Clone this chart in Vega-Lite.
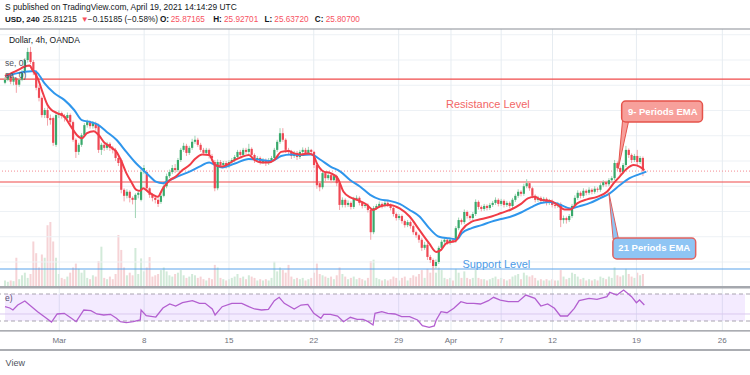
{
"$schema":"https://vega.github.io/schema/vega-lite/v6.json",
"width":750,"height":375,"padding":0,
"autosize":{"type":"none"},
"background":"white",
"config":{"view":{"stroke":null},"font":"Liberation Sans"},
"datasets":{
"candles":[
{"i":0,"o":27.55,"h":27.66,"l":27.52,"c":27.61,"v":10},
{"i":1,"o":27.61,"h":27.72,"l":27.58,"c":27.68,"v":8},
{"i":2,"o":27.68,"h":27.7,"l":27.52,"c":27.57,"v":10},
{"i":3,"o":27.57,"h":27.67,"l":27.5,"c":27.64,"v":9},
{"i":4,"o":27.64,"h":27.66,"l":27.35,"c":27.51,"v":45},
{"i":5,"o":27.51,"h":27.64,"l":27.47,"c":27.61,"v":12},
{"i":6,"o":27.61,"h":27.8,"l":27.58,"c":27.76,"v":18},
{"i":7,"o":27.76,"h":28.04,"l":27.72,"c":28.0,"v":22},
{"i":8,"o":28.0,"h":28.24,"l":27.95,"c":28.16,"v":14},
{"i":9,"o":28.16,"h":28.26,"l":27.92,"c":27.96,"v":20},
{"i":10,"o":27.96,"h":28.0,"l":27.7,"c":27.76,"v":70},
{"i":11,"o":27.76,"h":27.8,"l":27.4,"c":27.45,"v":52},
{"i":12,"o":27.45,"h":27.5,"l":27.18,"c":27.25,"v":30},
{"i":13,"o":27.25,"h":27.28,"l":26.86,"c":26.91,"v":50},
{"i":14,"o":26.91,"h":27.05,"l":26.85,"c":27.01,"v":45},
{"i":15,"o":27.01,"h":27.06,"l":26.7,"c":26.85,"v":95},
{"i":16,"o":26.85,"h":26.92,"l":26.72,"c":26.81,"v":100},
{"i":17,"o":26.85,"h":26.88,"l":26.3,"c":26.36,"v":70},
{"i":18,"o":26.32,"h":26.95,"l":26.28,"c":26.91,"v":45},
{"i":19,"o":26.91,"h":27.0,"l":26.85,"c":26.95,"v":20},
{"i":20,"o":26.95,"h":26.98,"l":26.84,"c":26.89,"v":14},
{"i":21,"o":26.89,"h":26.93,"l":26.78,"c":26.85,"v":12},
{"i":22,"o":26.85,"h":26.96,"l":26.82,"c":26.91,"v":16},
{"i":23,"o":26.91,"h":26.94,"l":26.72,"c":26.77,"v":22},
{"i":24,"o":26.77,"h":26.8,"l":26.38,"c":26.42,"v":30},
{"i":25,"o":26.42,"h":26.45,"l":26.06,"c":26.18,"v":36},
{"i":26,"o":26.18,"h":26.36,"l":26.12,"c":26.32,"v":28},
{"i":27,"o":26.32,"h":26.55,"l":26.28,"c":26.51,"v":22},
{"i":28,"o":26.51,"h":26.75,"l":26.47,"c":26.71,"v":26},
{"i":29,"o":26.71,"h":26.82,"l":26.66,"c":26.77,"v":14},
{"i":30,"o":26.77,"h":26.8,"l":26.64,"c":26.69,"v":12},
{"i":31,"o":26.69,"h":26.79,"l":26.64,"c":26.75,"v":18},
{"i":32,"o":26.75,"h":26.78,"l":26.6,"c":26.65,"v":16},
{"i":33,"o":26.71,"h":26.74,"l":26.16,"c":26.22,"v":40},
{"i":34,"o":26.22,"h":26.36,"l":26.12,"c":26.32,"v":62},
{"i":35,"o":26.32,"h":26.36,"l":26.2,"c":26.26,"v":14},
{"i":36,"o":26.26,"h":26.38,"l":26.22,"c":26.34,"v":12},
{"i":37,"o":26.34,"h":26.37,"l":26.2,"c":26.26,"v":16},
{"i":38,"o":26.26,"h":26.3,"l":26.15,"c":26.22,"v":12},
{"i":39,"o":26.22,"h":26.26,"l":26.0,"c":26.06,"v":20},
{"i":40,"o":26.06,"h":26.1,"l":25.9,"c":25.96,"v":80},
{"i":41,"o":26.02,"h":26.05,"l":25.36,"c":25.43,"v":57},
{"i":42,"o":25.43,"h":25.46,"l":25.2,"c":25.31,"v":30},
{"i":43,"o":25.31,"h":25.44,"l":25.26,"c":25.39,"v":18},
{"i":44,"o":25.39,"h":25.42,"l":25.18,"c":25.27,"v":22},
{"i":45,"o":25.27,"h":25.3,"l":25.14,"c":25.23,"v":18},
{"i":46,"o":25.23,"h":25.36,"l":24.87,"c":25.33,"v":60},
{"i":47,"o":25.33,"h":25.42,"l":25.26,"c":25.37,"v":20},
{"i":48,"o":25.23,"h":25.84,"l":25.2,"c":25.78,"v":44},
{"i":49,"o":25.78,"h":25.92,"l":25.74,"c":25.86,"v":24},
{"i":50,"o":25.78,"h":25.82,"l":25.4,"c":25.46,"v":30},
{"i":51,"o":25.46,"h":25.48,"l":25.27,"c":25.33,"v":46},
{"i":52,"o":25.33,"h":25.36,"l":25.2,"c":25.27,"v":16},
{"i":53,"o":25.27,"h":25.3,"l":25.16,"c":25.23,"v":18},
{"i":54,"o":25.23,"h":25.26,"l":25.09,"c":25.15,"v":20},
{"i":55,"o":25.19,"h":25.35,"l":25.15,"c":25.31,"v":26},
{"i":56,"o":25.31,"h":25.54,"l":25.28,"c":25.5,"v":30},
{"i":57,"o":25.5,"h":25.75,"l":25.46,"c":25.7,"v":24},
{"i":58,"o":25.7,"h":25.83,"l":25.66,"c":25.78,"v":18},
{"i":59,"o":25.78,"h":25.92,"l":25.74,"c":25.86,"v":16},
{"i":60,"o":25.86,"h":25.94,"l":25.76,"c":25.82,"v":20},
{"i":61,"o":25.82,"h":26.06,"l":25.78,"c":26.02,"v":22},
{"i":62,"o":26.02,"h":26.26,"l":25.98,"c":26.22,"v":26},
{"i":63,"o":26.22,"h":26.36,"l":26.18,"c":26.3,"v":18},
{"i":64,"o":26.3,"h":26.34,"l":26.1,"c":26.16,"v":14},
{"i":65,"o":26.16,"h":26.3,"l":26.12,"c":26.26,"v":16},
{"i":66,"o":26.26,"h":26.44,"l":26.22,"c":26.38,"v":20},
{"i":67,"o":26.38,"h":26.5,"l":26.34,"c":26.42,"v":18},
{"i":68,"o":26.42,"h":26.46,"l":26.28,"c":26.32,"v":14},
{"i":69,"o":26.32,"h":26.36,"l":26.18,"c":26.22,"v":16},
{"i":70,"o":26.22,"h":26.26,"l":26.12,"c":26.16,"v":12},
{"i":71,"o":26.16,"h":26.26,"l":26.12,"c":26.22,"v":10},
{"i":72,"o":26.22,"h":26.25,"l":26.05,"c":26.1,"v":14},
{"i":73,"o":26.1,"h":26.14,"l":26.0,"c":26.06,"v":12},
{"i":74,"o":25.98,"h":26.02,"l":25.4,"c":25.46,"v":34},
{"i":75,"o":25.46,"h":26.03,"l":25.42,"c":25.98,"v":30},
{"i":76,"o":25.98,"h":26.02,"l":25.86,"c":25.92,"v":14},
{"i":77,"o":25.92,"h":26.0,"l":25.88,"c":25.96,"v":12},
{"i":78,"o":25.96,"h":26.0,"l":25.85,"c":25.9,"v":10},
{"i":79,"o":25.9,"h":26.02,"l":25.86,"c":25.98,"v":12},
{"i":80,"o":25.98,"h":26.06,"l":25.94,"c":26.02,"v":14},
{"i":81,"o":26.02,"h":26.12,"l":25.98,"c":26.08,"v":16},
{"i":82,"o":26.08,"h":26.22,"l":26.04,"c":26.18,"v":20},
{"i":83,"o":26.18,"h":26.22,"l":26.08,"c":26.12,"v":14},
{"i":84,"o":26.12,"h":26.26,"l":26.08,"c":26.22,"v":16},
{"i":85,"o":26.22,"h":26.26,"l":26.14,"c":26.18,"v":12},
{"i":86,"o":26.18,"h":26.34,"l":26.14,"c":26.24,"v":18},
{"i":87,"o":26.24,"h":26.27,"l":26.08,"c":26.12,"v":16},
{"i":88,"o":26.12,"h":26.15,"l":25.96,"c":26.02,"v":14},
{"i":89,"o":26.02,"h":26.1,"l":25.98,"c":26.06,"v":10},
{"i":90,"o":26.06,"h":26.09,"l":25.93,"c":25.98,"v":12},
{"i":91,"o":25.98,"h":26.06,"l":25.94,"c":26.02,"v":10},
{"i":92,"o":26.02,"h":26.05,"l":25.9,"c":25.96,"v":12},
{"i":93,"o":25.96,"h":26.06,"l":25.92,"c":26.02,"v":10},
{"i":94,"o":26.02,"h":26.1,"l":25.98,"c":26.06,"v":14},
{"i":95,"o":26.06,"h":26.26,"l":26.02,"c":26.22,"v":39},
{"i":96,"o":26.22,"h":26.42,"l":26.18,"c":26.38,"v":24},
{"i":97,"o":26.38,"h":26.65,"l":26.34,"c":26.55,"v":30},
{"i":98,"o":26.55,"h":26.65,"l":26.38,"c":26.42,"v":26},
{"i":99,"o":26.42,"h":26.45,"l":26.16,"c":26.22,"v":22},
{"i":100,"o":26.22,"h":26.26,"l":26.12,"c":26.18,"v":34},
{"i":101,"o":26.18,"h":26.22,"l":26.04,"c":26.1,"v":16},
{"i":102,"o":26.1,"h":26.2,"l":26.06,"c":26.16,"v":12},
{"i":103,"o":26.16,"h":26.2,"l":26.02,"c":26.08,"v":14},
{"i":104,"o":26.08,"h":26.22,"l":26.04,"c":26.18,"v":12},
{"i":105,"o":26.18,"h":26.27,"l":26.14,"c":26.22,"v":14},
{"i":106,"o":26.22,"h":26.26,"l":26.12,"c":26.16,"v":10},
{"i":107,"o":26.16,"h":26.28,"l":26.12,"c":26.22,"v":12},
{"i":108,"o":26.22,"h":26.24,"l":26.12,"c":26.18,"v":14},
{"i":109,"o":26.18,"h":26.2,"l":25.86,"c":25.92,"v":22},
{"i":110,"o":25.92,"h":25.95,"l":25.45,"c":25.52,"v":36},
{"i":111,"o":25.56,"h":25.6,"l":25.4,"c":25.48,"v":20},
{"i":112,"o":25.48,"h":25.8,"l":25.44,"c":25.76,"v":18},
{"i":113,"o":25.76,"h":25.8,"l":25.6,"c":25.66,"v":16},
{"i":114,"o":25.66,"h":25.76,"l":25.62,"c":25.72,"v":14},
{"i":115,"o":25.72,"h":25.76,"l":25.56,"c":25.62,"v":16},
{"i":116,"o":25.62,"h":25.74,"l":25.58,"c":25.7,"v":12},
{"i":117,"o":25.7,"h":25.73,"l":25.5,"c":25.56,"v":18},
{"i":118,"o":25.56,"h":25.58,"l":25.03,"c":25.13,"v":30},
{"i":119,"o":25.13,"h":25.28,"l":25.08,"c":25.23,"v":20},
{"i":120,"o":25.23,"h":25.26,"l":25.08,"c":25.13,"v":16},
{"i":121,"o":25.13,"h":25.22,"l":25.09,"c":25.17,"v":12},
{"i":122,"o":25.17,"h":25.2,"l":25.04,"c":25.09,"v":14},
{"i":123,"o":25.09,"h":25.29,"l":25.05,"c":25.25,"v":16},
{"i":124,"o":25.25,"h":25.32,"l":25.21,"c":25.27,"v":12},
{"i":125,"o":25.27,"h":25.3,"l":25.12,"c":25.17,"v":14},
{"i":126,"o":25.17,"h":25.2,"l":25.06,"c":25.11,"v":12},
{"i":127,"o":25.11,"h":25.17,"l":25.07,"c":25.13,"v":10},
{"i":128,"o":25.13,"h":25.16,"l":24.98,"c":25.03,"v":14},
{"i":129,"o":25.03,"h":25.06,"l":24.44,"c":24.59,"v":40},
{"i":130,"o":24.59,"h":25.11,"l":24.55,"c":25.07,"v":42},
{"i":131,"o":25.07,"h":25.15,"l":25.03,"c":25.11,"v":14},
{"i":132,"o":25.11,"h":25.2,"l":25.07,"c":25.15,"v":12},
{"i":133,"o":25.15,"h":25.18,"l":25.06,"c":25.11,"v":10},
{"i":134,"o":25.11,"h":25.22,"l":25.08,"c":25.17,"v":12},
{"i":135,"o":25.17,"h":25.21,"l":25.09,"c":25.13,"v":10},
{"i":136,"o":25.13,"h":25.16,"l":25.02,"c":25.07,"v":12},
{"i":137,"o":25.07,"h":25.1,"l":24.9,"c":24.95,"v":16},
{"i":138,"o":24.95,"h":24.98,"l":24.82,"c":24.87,"v":14},
{"i":139,"o":24.87,"h":24.95,"l":24.83,"c":24.91,"v":10},
{"i":140,"o":24.91,"h":24.94,"l":24.76,"c":24.81,"v":14},
{"i":141,"o":24.81,"h":24.84,"l":24.68,"c":24.73,"v":16},
{"i":142,"o":24.73,"h":24.83,"l":24.69,"c":24.79,"v":10},
{"i":143,"o":24.79,"h":24.82,"l":24.66,"c":24.71,"v":14},
{"i":144,"o":24.71,"h":24.74,"l":24.54,"c":24.59,"v":18},
{"i":145,"o":24.59,"h":24.62,"l":24.48,"c":24.53,"v":16},
{"i":146,"o":24.53,"h":24.56,"l":24.38,"c":24.44,"v":20},
{"i":147,"o":24.44,"h":24.48,"l":24.22,"c":24.28,"v":26},
{"i":148,"o":24.28,"h":24.4,"l":24.24,"c":24.34,"v":14},
{"i":149,"o":24.34,"h":24.38,"l":24.04,"c":24.1,"v":28},
{"i":150,"o":24.1,"h":24.14,"l":23.98,"c":24.04,"v":22},
{"i":151,"o":24.04,"h":24.07,"l":23.84,"c":23.92,"v":32},
{"i":152,"o":23.92,"h":24.05,"l":23.86,"c":24.0,"v":22},
{"i":153,"o":24.0,"h":24.32,"l":23.96,"c":24.28,"v":30},
{"i":154,"o":24.28,"h":24.44,"l":24.24,"c":24.4,"v":26},
{"i":155,"o":24.4,"h":24.48,"l":24.36,"c":24.44,"v":14},
{"i":156,"o":24.44,"h":24.47,"l":24.34,"c":24.38,"v":12},
{"i":157,"o":24.38,"h":24.48,"l":24.34,"c":24.44,"v":14},
{"i":158,"o":24.44,"h":24.47,"l":24.38,"c":24.42,"v":10},
{"i":159,"o":24.42,"h":24.71,"l":24.38,"c":24.67,"v":28},
{"i":160,"o":24.67,"h":24.88,"l":24.63,"c":24.83,"v":22},
{"i":161,"o":24.83,"h":24.86,"l":24.74,"c":24.79,"v":14},
{"i":162,"o":24.79,"h":25.04,"l":24.75,"c":24.99,"v":24},
{"i":163,"o":24.99,"h":25.02,"l":24.86,"c":24.91,"v":14},
{"i":164,"o":24.91,"h":24.94,"l":24.82,"c":24.87,"v":12},
{"i":165,"o":24.87,"h":24.99,"l":24.83,"c":24.95,"v":14},
{"i":166,"o":24.95,"h":25.24,"l":24.91,"c":25.19,"v":26},
{"i":167,"o":25.19,"h":25.22,"l":25.04,"c":25.09,"v":14},
{"i":168,"o":25.09,"h":25.12,"l":25.0,"c":25.05,"v":12},
{"i":169,"o":25.05,"h":25.15,"l":25.01,"c":25.11,"v":12},
{"i":170,"o":25.11,"h":25.14,"l":25.02,"c":25.07,"v":10},
{"i":171,"o":25.07,"h":25.17,"l":25.03,"c":25.13,"v":12},
{"i":172,"o":25.13,"h":25.21,"l":25.09,"c":25.17,"v":14},
{"i":173,"o":25.17,"h":25.28,"l":25.13,"c":25.23,"v":16},
{"i":174,"o":25.23,"h":25.26,"l":25.1,"c":25.15,"v":12},
{"i":175,"o":25.15,"h":25.25,"l":25.11,"c":25.21,"v":14},
{"i":176,"o":25.21,"h":25.24,"l":25.08,"c":25.13,"v":12},
{"i":177,"o":25.13,"h":25.21,"l":25.09,"c":25.17,"v":10},
{"i":178,"o":25.17,"h":25.2,"l":25.06,"c":25.11,"v":12},
{"i":179,"o":25.11,"h":25.27,"l":25.07,"c":25.23,"v":16},
{"i":180,"o":25.23,"h":25.35,"l":25.19,"c":25.31,"v":18},
{"i":181,"o":25.31,"h":25.44,"l":25.27,"c":25.39,"v":20},
{"i":182,"o":25.39,"h":25.42,"l":25.3,"c":25.35,"v":12},
{"i":183,"o":25.35,"h":25.55,"l":25.31,"c":25.5,"v":22},
{"i":184,"o":25.5,"h":25.64,"l":25.46,"c":25.56,"v":18},
{"i":185,"o":25.56,"h":25.59,"l":25.41,"c":25.46,"v":16},
{"i":186,"o":25.46,"h":25.49,"l":25.26,"c":25.31,"v":18},
{"i":187,"o":25.31,"h":25.34,"l":25.18,"c":25.23,"v":14},
{"i":188,"o":25.23,"h":25.31,"l":25.19,"c":25.27,"v":10},
{"i":189,"o":25.27,"h":25.3,"l":25.16,"c":25.21,"v":12},
{"i":190,"o":25.21,"h":25.29,"l":25.17,"c":25.25,"v":10},
{"i":191,"o":25.25,"h":25.28,"l":25.12,"c":25.17,"v":12},
{"i":192,"o":25.17,"h":25.25,"l":25.13,"c":25.21,"v":10},
{"i":193,"o":25.21,"h":25.24,"l":25.08,"c":25.13,"v":12},
{"i":194,"o":25.13,"h":25.16,"l":25.06,"c":25.11,"v":10},
{"i":195,"o":25.11,"h":25.19,"l":25.07,"c":25.15,"v":10},
{"i":196,"o":25.15,"h":25.18,"l":24.69,"c":24.83,"v":26},
{"i":197,"o":24.83,"h":24.92,"l":24.76,"c":24.87,"v":16},
{"i":198,"o":24.87,"h":24.9,"l":24.76,"c":24.83,"v":12},
{"i":199,"o":24.83,"h":24.95,"l":24.79,"c":24.91,"v":14},
{"i":200,"o":24.91,"h":25.15,"l":24.87,"c":25.11,"v":22},
{"i":201,"o":25.11,"h":25.32,"l":25.07,"c":25.27,"v":20},
{"i":202,"o":25.27,"h":25.42,"l":25.23,"c":25.37,"v":16},
{"i":203,"o":25.37,"h":25.4,"l":25.26,"c":25.31,"v":12},
{"i":204,"o":25.31,"h":25.46,"l":25.27,"c":25.41,"v":14},
{"i":205,"o":25.41,"h":25.44,"l":25.32,"c":25.37,"v":10},
{"i":206,"o":25.37,"h":25.48,"l":25.33,"c":25.43,"v":12},
{"i":207,"o":25.43,"h":25.46,"l":25.34,"c":25.39,"v":10},
{"i":208,"o":25.39,"h":25.5,"l":25.35,"c":25.45,"v":12},
{"i":209,"o":25.45,"h":25.48,"l":25.38,"c":25.43,"v":10},
{"i":210,"o":25.43,"h":25.56,"l":25.39,"c":25.52,"v":16},
{"i":211,"o":25.52,"h":25.62,"l":25.48,"c":25.58,"v":14},
{"i":212,"o":25.58,"h":25.61,"l":25.49,"c":25.54,"v":12},
{"i":213,"o":25.54,"h":25.66,"l":25.5,"c":25.62,"v":16},
{"i":214,"o":25.62,"h":25.7,"l":25.58,"c":25.66,"v":14},
{"i":215,"o":25.66,"h":26.02,"l":25.62,"c":25.96,"v":30},
{"i":216,"o":25.96,"h":25.99,"l":25.8,"c":25.86,"v":18},
{"i":217,"o":25.86,"h":25.89,"l":25.72,"c":25.78,"v":16},
{"i":218,"o":25.78,"h":25.96,"l":25.74,"c":25.92,"v":18},
{"i":219,"o":25.92,"h":26.3,"l":25.88,"c":26.22,"v":28},
{"i":220,"o":26.22,"h":26.25,"l":26.06,"c":26.12,"v":20},
{"i":221,"o":26.12,"h":26.15,"l":25.96,"c":26.02,"v":16},
{"i":222,"o":26.02,"h":26.14,"l":25.98,"c":26.1,"v":14},
{"i":223,"o":26.1,"h":26.22,"l":25.92,"c":25.98,"v":22},
{"i":224,"o":25.98,"h":26.1,"l":25.94,"c":26.06,"v":18},
{"i":225,"o":26.06,"h":26.09,"l":25.7,"c":25.81,"v":20}
],
"ema9":[{"i":0,"v":27.68},{"i":4.5,"v":27.8},{"i":7,"v":27.87},{"i":8.7,"v":27.89},{"i":9.7,"v":27.8},{"i":11.5,"v":27.64},{"i":13.2,"v":27.37},{"i":15,"v":27.11},{"i":16.4,"v":27.01},{"i":18.4,"v":26.95},{"i":20.9,"v":26.88},{"i":23.3,"v":26.68},{"i":25.4,"v":26.51},{"i":27.1,"v":26.45},{"i":28.9,"v":26.55},{"i":31.3,"v":26.59},{"i":33.1,"v":26.51},{"i":34.8,"v":26.38},{"i":37.2,"v":26.28},{"i":39.3,"v":26.18},{"i":41.1,"v":25.99},{"i":42.8,"v":25.76},{"i":44.5,"v":25.59},{"i":46.3,"v":25.43},{"i":47.7,"v":25.41},{"i":48.7,"v":25.46},{"i":50.5,"v":25.39},{"i":52.2,"v":25.33},{"i":53.9,"v":25.29},{"i":55.7,"v":25.46},{"i":58.1,"v":25.62},{"i":60.2,"v":25.69},{"i":62.6,"v":25.82},{"i":65.1,"v":25.92},{"i":67.2,"v":26.05},{"i":69.6,"v":26.13},{"i":72,"v":26.12},{"i":74.1,"v":25.92},{"i":76.6,"v":25.89},{"i":79,"v":25.95},{"i":81.1,"v":26.02},{"i":83.5,"v":26.08},{"i":86,"v":26.12},{"i":88,"v":26.02},{"i":90.5,"v":25.97},{"i":92.9,"v":25.97},{"i":95,"v":26.02},{"i":97.4,"v":26.18},{"i":99.9,"v":26.2},{"i":102,"v":26.15},{"i":104.4,"v":26.13},{"i":106.8,"v":26.15},{"i":108.6,"v":26.12},{"i":110.3,"v":25.92},{"i":112.4,"v":25.79},{"i":114.8,"v":25.76},{"i":117.3,"v":25.66},{"i":119.4,"v":25.39},{"i":121.8,"v":25.28},{"i":124.2,"v":25.23},{"i":127.7,"v":25.13},{"i":129.8,"v":25.03},{"i":132.2,"v":25.1},{"i":135.7,"v":25.13},{"i":139.2,"v":25.06},{"i":142.7,"v":24.9},{"i":146.2,"v":24.63},{"i":149.6,"v":24.37},{"i":152.1,"v":24.2},{"i":153.8,"v":24.24},{"i":155.6,"v":24.37},{"i":159,"v":24.42},{"i":161.1,"v":24.63},{"i":164.6,"v":24.8},{"i":168.1,"v":24.85},{"i":171.6,"v":24.9},{"i":175,"v":24.97},{"i":178.5,"v":25.04},{"i":182,"v":25.15},{"i":184.4,"v":25.26},{"i":186.9,"v":25.29},{"i":189,"v":25.23},{"i":192.4,"v":25.21},{"i":194.9,"v":25.13},{"i":197.3,"v":25.04},{"i":199.4,"v":25.04},{"i":201.8,"v":25.16},{"i":205.3,"v":25.24},{"i":208.8,"v":25.29},{"i":212.3,"v":25.39},{"i":214.7,"v":25.56},{"i":216.8,"v":25.69},{"i":219.2,"v":25.84},{"i":221.7,"v":25.92},{"i":223.8,"v":25.89},{"i":225.5,"v":25.82}],
"ema21":[{"i":0,"v":27.68},{"i":4.5,"v":27.74},{"i":8,"v":27.77},{"i":10.4,"v":27.78},{"i":11.5,"v":27.74},{"i":13.9,"v":27.54},{"i":17.4,"v":27.34},{"i":20.9,"v":27.21},{"i":24.4,"v":27.01},{"i":27.1,"v":26.81},{"i":30.3,"v":26.77},{"i":32.4,"v":26.73},{"i":35.8,"v":26.58},{"i":39.3,"v":26.42},{"i":42.8,"v":26.18},{"i":46.3,"v":25.95},{"i":48.7,"v":25.82},{"i":51.2,"v":25.69},{"i":53.2,"v":25.59},{"i":55.7,"v":25.56},{"i":58.1,"v":25.62},{"i":61.6,"v":25.71},{"i":65.1,"v":25.79},{"i":68.6,"v":25.89},{"i":72,"v":25.97},{"i":74.1,"v":25.92},{"i":76.6,"v":25.87},{"i":81.1,"v":25.95},{"i":86,"v":26.04},{"i":90.5,"v":26.02},{"i":94,"v":26.0},{"i":97.4,"v":26.1},{"i":100.9,"v":26.13},{"i":104.4,"v":26.12},{"i":107.9,"v":26.13},{"i":111.4,"v":26.02},{"i":114.8,"v":25.89},{"i":118.3,"v":25.79},{"i":121.8,"v":25.62},{"i":125.3,"v":25.49},{"i":128.8,"v":25.33},{"i":132.2,"v":25.24},{"i":135.7,"v":25.21},{"i":139.2,"v":25.15},{"i":142.7,"v":25.03},{"i":146.2,"v":24.9},{"i":149.6,"v":24.67},{"i":153.1,"v":24.5},{"i":156.6,"v":24.47},{"i":159.4,"v":24.45},{"i":161.1,"v":24.57},{"i":164.6,"v":24.67},{"i":168.1,"v":24.73},{"i":171.6,"v":24.8},{"i":175,"v":24.85},{"i":178.5,"v":24.9},{"i":182,"v":24.98},{"i":185.5,"v":25.08},{"i":189,"v":25.17},{"i":192.4,"v":25.19},{"i":195.9,"v":25.13},{"i":199.4,"v":25.06},{"i":202.9,"v":25.11},{"i":206.4,"v":25.17},{"i":209.8,"v":25.26},{"i":213.3,"v":25.36},{"i":216.8,"v":25.52},{"i":220.3,"v":25.66},{"i":223.8,"v":25.74},{"i":226.2,"v":25.79}],
"rsi":[{"i":0,"r":51.2},{"i":1.7,"r":49.3},{"i":2.8,"r":46.3},{"i":4.5,"r":53.7},{"i":7.0,"r":59.6},{"i":9.4,"r":51.2},{"i":11.5,"r":43.8},{"i":13.9,"r":36.4},{"i":16.4,"r":28.5},{"i":18.4,"r":40.4},{"i":20.9,"r":41.4},{"i":23.3,"r":34.4},{"i":25.1,"r":29.0},{"i":27.8,"r":46.3},{"i":30.3,"r":45.3},{"i":32.4,"r":40.4},{"i":34.8,"r":38.9},{"i":37.2,"r":39.9},{"i":39.3,"r":34.0},{"i":40.7,"r":29.0},{"i":42.8,"r":27.5},{"i":45.2,"r":29.0},{"i":47.7,"r":31.5},{"i":48.0,"r":46.3},{"i":49.8,"r":37.9},{"i":53.2,"r":35.9},{"i":55.7,"r":49.3},{"i":58.1,"r":55.2},{"i":60.2,"r":52.2},{"i":62.6,"r":57.1},{"i":66.1,"r":60.1},{"i":68.6,"r":56.2},{"i":70.6,"r":56.2},{"i":73.1,"r":47.8},{"i":74.1,"r":38.9},{"i":76.6,"r":51.2},{"i":80.0,"r":56.2},{"i":83.5,"r":56.2},{"i":86.0,"r":51.2},{"i":88.0,"r":47.8},{"i":90.5,"r":46.3},{"i":92.9,"r":47.3},{"i":95.0,"r":60.1},{"i":96.7,"r":65.1},{"i":98.5,"r":56.2},{"i":102.0,"r":47.8},{"i":104.4,"r":53.7},{"i":106.8,"r":54.7},{"i":108.9,"r":41.4},{"i":111.4,"r":34.0},{"i":112.4,"r":39.9},{"i":114.8,"r":39.9},{"i":117.3,"r":37.4},{"i":119.4,"r":29.0},{"i":121.8,"r":35.5},{"i":124.2,"r":32.5},{"i":126.3,"r":32.5},{"i":128.1,"r":29.0},{"i":129.8,"r":24.1},{"i":130.5,"r":41.4},{"i":132.9,"r":43.8},{"i":135.0,"r":41.4},{"i":137.5,"r":40.4},{"i":139.9,"r":36.4},{"i":142.7,"r":36.4},{"i":145.5,"r":31.5},{"i":147.2,"r":23.0},{"i":149.6,"r":20.7},{"i":151.4,"r":22.6},{"i":152.1,"r":31.5},{"i":153.8,"r":43.8},{"i":155.9,"r":42.3},{"i":158.3,"r":48.8},{"i":160.8,"r":58.6},{"i":162.9,"r":56.2},{"i":165.3,"r":56.2},{"i":167.7,"r":55.2},{"i":170.5,"r":60.1},{"i":172.3,"r":65.1},{"i":174.7,"r":61.1},{"i":177.5,"r":58.6},{"i":181.0,"r":58.6},{"i":183.7,"r":68.5},{"i":186.9,"r":63.6},{"i":189.0,"r":52.2},{"i":191.4,"r":55.2},{"i":193.8,"r":48.8},{"i":195.9,"r":37.4},{"i":198.4,"r":37.4},{"i":200.8,"r":48.8},{"i":202.5,"r":60.1},{"i":206.0,"r":63.6},{"i":208.8,"r":62.1},{"i":212.3,"r":66.0},{"i":213.3,"r":72.5},{"i":215.8,"r":68.5},{"i":218.2,"r":75.9},{"i":221.0,"r":66.0},{"i":222.7,"r":57.1},{"i":223.8,"r":61.1},{"i":225.5,"r":53.7}],
"ticks":[{"i":19.14,"t":"Mar"},{"i":49.07,"t":"8"},{"i":79.0,"t":"15"},{"i":108.9,"t":"22"},{"i":138.85,"t":"29"},{"i":157.3,"t":"Apr"},{"i":175.0,"t":"7"},{"i":193.1,"t":"12"},{"i":222.7,"t":"19"},{"i":253.0,"t":"26"}],
"hgrid":[{"p":24},{"p":24.5},{"p":25},{"p":25.5},{"p":26},{"p":26.5},{"p":27},{"p":27.5},{"p":28},{"p":28.5}]
},
"layer":[
{"layer":[
 {"data":{"name":"candles"},"mark":{"type":"bar","size":2},"encoding":{
  "x":{"field":"i","type":"quantitative","scale":{"domain":[0,261],"nice":false,"zero":false},"axis":null},
  "y":{"field":"v","type":"quantitative","scale":{"domain":[-135.4,441.5],"nice":false,"zero":false},"axis":null},
  "y2":{"datum":0},
  "color":{"condition":{"test":"datum.c >= datum.o","value":"#d2ead9"},"value":"#f6d3d6"}}}
]},
{"layer":[
 {"data":{"name":"hgrid"},"mark":{"type":"rule","color":"#edf1f5","strokeWidth":1},"encoding":{
  "y":{"field":"p","type":"quantitative","scale":{"domain":[21.762,29.188],"nice":false,"zero":false},"axis":null}}},
 {"data":{"name":"ticks"},"mark":{"type":"rule","color":"#e6ecf1","strokeWidth":1},"encoding":{
  "x":{"field":"i","type":"quantitative","scale":{"domain":[0,261],"nice":false,"zero":false},"axis":null},
  "y":{"datum":28.614,"type":"quantitative","scale":{"domain":[21.762,29.188],"nice":false,"zero":false},"axis":null},
  "y2":{"datum":22.634}}},
 {"data":{"values":[{}]},"mark":{"type":"rule","color":"#8a8d96","strokeWidth":1.2},"encoding":{"y":{"datum":28.614,"type":"quantitative","scale":{"domain":[21.762,29.188],"nice":false,"zero":false},"axis":null}}},
 {"data":{"values":[{}]},"mark":{"type":"rule","color":"#a5a8ae","strokeWidth":2.5},"encoding":{"y":{"datum":23.50,"type":"quantitative","scale":{"domain":[21.762,29.188],"nice":false,"zero":false},"axis":null}}},
 {"data":{"values":[{}]},"mark":{"type":"rule","color":"#8f9299","strokeWidth":1.3},"encoding":{"y":{"datum":22.634,"type":"quantitative","scale":{"domain":[21.762,29.188],"nice":false,"zero":false},"axis":null}}},
 {"data":{"values":[{}]},"mark":{"type":"rule","color":"#8f9299","strokeWidth":1.3},"encoding":{"y":{"datum":22.257,"type":"quantitative","scale":{"domain":[21.762,29.188],"nice":false,"zero":false},"axis":null}}},
 {"data":{"values":[{}]},"mark":{"type":"rule","color":"#f48a91","strokeWidth":1,"strokeDash":[1,2]},"encoding":{"y":{"datum":25.80,"type":"quantitative","scale":{"domain":[21.762,29.188],"nice":false,"zero":false},"axis":null}}},
 {"data":{"values":[{}]},"mark":{"type":"rule","color":"#f04a4a","strokeWidth":1.2},"encoding":{"y":{"datum":27.62,"type":"quantitative","scale":{"domain":[21.762,29.188],"nice":false,"zero":false},"axis":null}}},
 {"data":{"values":[{}]},"mark":{"type":"rule","color":"#f04a4a","strokeWidth":1.2},"encoding":{"y":{"datum":25.584,"type":"quantitative","scale":{"domain":[21.762,29.188],"nice":false,"zero":false},"axis":null}}},
 {"data":{"values":[{}]},"mark":{"type":"rule","color":"#5ba4ec","strokeWidth":1.2},"encoding":{"y":{"datum":23.861,"type":"quantitative","scale":{"domain":[21.762,29.188],"nice":false,"zero":false},"axis":null}}},
 {"data":{"name":"candles"},"mark":{"type":"rule","strokeWidth":1},"encoding":{
  "x":{"field":"i","type":"quantitative","scale":{"domain":[0,261],"nice":false,"zero":false},"axis":null},
  "y":{"field":"l","type":"quantitative","scale":{"domain":[21.762,29.188],"nice":false,"zero":false},"axis":null},
  "y2":{"field":"h"},
  "color":{"condition":{"test":"datum.c >= datum.o","value":"#9fd3b4"},"value":"#f3a3a9"}}},
 {"data":{"name":"candles"},"mark":{"type":"bar","size":2.2},"encoding":{
  "x":{"field":"i","type":"quantitative","scale":{"domain":[0,261],"nice":false,"zero":false},"axis":null},
  "y":{"field":"o","type":"quantitative","scale":{"domain":[21.762,29.188],"nice":false,"zero":false},"axis":null},
  "y2":{"field":"c"},
  "color":{"condition":{"test":"datum.c >= datum.o","value":"#38a96b"},"value":"#ef4753"}}},
 {"data":{"name":"ema21"},"mark":{"type":"line","color":"#2f96ec","strokeWidth":2,"interpolate":"monotone"},"encoding":{
  "x":{"field":"i","type":"quantitative","scale":{"domain":[0,261],"nice":false,"zero":false},"axis":null},
  "y":{"field":"v","type":"quantitative","scale":{"domain":[21.762,29.188],"nice":false,"zero":false},"axis":null}}},
 {"data":{"name":"ema9"},"mark":{"type":"line","color":"#f03c47","strokeWidth":2,"interpolate":"monotone"},"encoding":{
  "x":{"field":"i","type":"quantitative","scale":{"domain":[0,261],"nice":false,"zero":false},"axis":null},
  "y":{"field":"v","type":"quantitative","scale":{"domain":[21.762,29.188],"nice":false,"zero":false},"axis":null}}},
 {"data":{"name":"ticks"},"mark":{"type":"text","fontSize":8,"color":"#6f727c","baseline":"middle"},"encoding":{
  "x":{"field":"i","type":"quantitative","scale":{"domain":[0,261],"nice":false,"zero":false},"axis":null},
  "y":{"datum":22.436,"type":"quantitative","scale":{"domain":[21.762,29.188],"nice":false,"zero":false},"axis":null},
  "text":{"field":"t"}}},
 {"data":{"values":[{}]},"mark":{"type":"text","fontSize":11,"color":"#f26666","baseline":"middle","align":"center"},"encoding":{
  "x":{"datum":170.3,"type":"quantitative","scale":{"domain":[0,261],"nice":false,"zero":false},"axis":null},
  "y":{"datum":27.11,"type":"quantitative","scale":{"domain":[21.762,29.188],"nice":false,"zero":false},"axis":null},
  "text":{"value":"Resistance Level"}}},
 {"data":{"values":[{}]},"mark":{"type":"text","fontSize":11,"color":"#4d9be6","baseline":"middle","align":"center"},"encoding":{
  "x":{"datum":173.3,"type":"quantitative","scale":{"domain":[0,261],"nice":false,"zero":false},"axis":null},
  "y":{"datum":23.94,"type":"quantitative","scale":{"domain":[21.762,29.188],"nice":false,"zero":false},"axis":null},
  "text":{"value":"Support Level"}}},
 {"data":{"values":[{}]},"mark":{"type":"text","fontSize":8.4,"color":"#131722","baseline":"middle","align":"left"},"encoding":{
  "x":{"datum":0,"type":"quantitative","scale":{"domain":[0,261],"nice":false,"zero":false},"axis":null},
  "y":{"datum":29.05,"type":"quantitative","scale":{"domain":[21.762,29.188],"nice":false,"zero":false},"axis":null},
  "text":{"value":"S published on TradingView.com, April 19, 2021 14:14:29 UTC"}}},
 {"data":{"values":[{}]},"mark":{"type":"text","fontSize":8,"fontWeight":"bold","color":"#131722","baseline":"middle","align":"left"},"encoding":{
  "x":{"datum":0,"type":"quantitative","scale":{"domain":[0,261],"nice":false,"zero":false},"axis":null},
  "y":{"datum":28.79,"type":"quantitative","scale":{"domain":[21.762,29.188],"nice":false,"zero":false},"axis":null},
  "text":{"value":"USD, 240"}}},
 {"data":{"values":[{}]},"mark":{"type":"text","fontSize":8.2,"color":"#131722","baseline":"middle","align":"left"},"encoding":{
  "x":{"datum":13.3,"type":"quantitative","scale":{"domain":[0,261],"nice":false,"zero":false},"axis":null},
  "y":{"datum":28.79,"type":"quantitative","scale":{"domain":[21.762,29.188],"nice":false,"zero":false},"axis":null},
  "text":{"value":"25.81215"}}},
 {"data":{"values":[{}]},"mark":{"type":"text","fontSize":8,"color":"#f7525f","baseline":"middle","align":"left"},"encoding":{
  "x":{"datum":26.69,"type":"quantitative","scale":{"domain":[0,261],"nice":false,"zero":false},"axis":null},
  "y":{"datum":28.79,"type":"quantitative","scale":{"domain":[21.762,29.188],"nice":false,"zero":false},"axis":null},
  "text":{"value":"▼"}}},
 {"data":{"values":[{}]},"mark":{"type":"text","fontSize":8.2,"color":"#131722","baseline":"middle","align":"left"},"encoding":{
  "x":{"datum":29.23,"type":"quantitative","scale":{"domain":[0,261],"nice":false,"zero":false},"axis":null},
  "y":{"datum":28.79,"type":"quantitative","scale":{"domain":[21.762,29.188],"nice":false,"zero":false},"axis":null},
  "text":{"value":"−0.15185 (−0.58%)"}}},
 {"data":{"values":[{}]},"mark":{"type":"text","fontSize":8.2,"fontWeight":"bold","color":"#131722","baseline":"middle","align":"left"},"encoding":{
  "x":{"datum":54.64,"type":"quantitative","scale":{"domain":[0,261],"nice":false,"zero":false},"axis":null},
  "y":{"datum":28.79,"type":"quantitative","scale":{"domain":[21.762,29.188],"nice":false,"zero":false},"axis":null},
  "text":{"value":"O:"}}},
 {"data":{"values":[{}]},"mark":{"type":"text","fontSize":8.2,"color":"#f7525f","baseline":"middle","align":"left"},"encoding":{
  "x":{"datum":58.46,"type":"quantitative","scale":{"domain":[0,261],"nice":false,"zero":false},"axis":null},
  "y":{"datum":28.79,"type":"quantitative","scale":{"domain":[21.762,29.188],"nice":false,"zero":false},"axis":null},
  "text":{"value":"25.87165"}}},
 {"data":{"values":[{}]},"mark":{"type":"text","fontSize":8.2,"fontWeight":"bold","color":"#131722","baseline":"middle","align":"left"},"encoding":{
  "x":{"datum":73.43,"type":"quantitative","scale":{"domain":[0,261],"nice":false,"zero":false},"axis":null},
  "y":{"datum":28.79,"type":"quantitative","scale":{"domain":[21.762,29.188],"nice":false,"zero":false},"axis":null},
  "text":{"value":"H:"}}},
 {"data":{"values":[{}]},"mark":{"type":"text","fontSize":8.2,"color":"#f7525f","baseline":"middle","align":"left"},"encoding":{
  "x":{"datum":77.26,"type":"quantitative","scale":{"domain":[0,261],"nice":false,"zero":false},"axis":null},
  "y":{"datum":28.79,"type":"quantitative","scale":{"domain":[21.762,29.188],"nice":false,"zero":false},"axis":null},
  "text":{"value":"25.92701"}}},
 {"data":{"values":[{}]},"mark":{"type":"text","fontSize":8.2,"fontWeight":"bold","color":"#131722","baseline":"middle","align":"left"},"encoding":{
  "x":{"datum":91.52,"type":"quantitative","scale":{"domain":[0,261],"nice":false,"zero":false},"axis":null},
  "y":{"datum":28.79,"type":"quantitative","scale":{"domain":[21.762,29.188],"nice":false,"zero":false},"axis":null},
  "text":{"value":"L:"}}},
 {"data":{"values":[{}]},"mark":{"type":"text","fontSize":8.2,"color":"#f7525f","baseline":"middle","align":"left"},"encoding":{
  "x":{"datum":95.0,"type":"quantitative","scale":{"domain":[0,261],"nice":false,"zero":false},"axis":null},
  "y":{"datum":28.79,"type":"quantitative","scale":{"domain":[21.762,29.188],"nice":false,"zero":false},"axis":null},
  "text":{"value":"25.63720"}}},
 {"data":{"values":[{}]},"mark":{"type":"text","fontSize":8.2,"fontWeight":"bold","color":"#131722","baseline":"middle","align":"left"},"encoding":{
  "x":{"datum":109.27,"type":"quantitative","scale":{"domain":[0,261],"nice":false,"zero":false},"axis":null},
  "y":{"datum":28.79,"type":"quantitative","scale":{"domain":[21.762,29.188],"nice":false,"zero":false},"axis":null},
  "text":{"value":"C:"}}},
 {"data":{"values":[{}]},"mark":{"type":"text","fontSize":8.2,"color":"#f7525f","baseline":"middle","align":"left"},"encoding":{
  "x":{"datum":113.1,"type":"quantitative","scale":{"domain":[0,261],"nice":false,"zero":false},"axis":null},
  "y":{"datum":28.79,"type":"quantitative","scale":{"domain":[21.762,29.188],"nice":false,"zero":false},"axis":null},
  "text":{"value":"25.80700"}}},
 {"data":{"values":[{}]},"mark":{"type":"text","fontSize":8.5,"color":"#131722","baseline":"middle","align":"left"},"encoding":{
  "x":{"datum":1.4,"type":"quantitative","scale":{"domain":[0,261],"nice":false,"zero":false},"axis":null},
  "y":{"datum":28.396,"type":"quantitative","scale":{"domain":[21.762,29.188],"nice":false,"zero":false},"axis":null},
  "text":{"value":"Dollar, 4h, OANDA"}}},
 {"data":{"values":[{}]},"mark":{"type":"text","fontSize":8.5,"color":"#50535e","baseline":"middle","align":"left"},"encoding":{
  "x":{"datum":0,"type":"quantitative","scale":{"domain":[0,261],"nice":false,"zero":false},"axis":null},
  "y":{"datum":27.94,"type":"quantitative","scale":{"domain":[21.762,29.188],"nice":false,"zero":false},"axis":null},
  "text":{"value":"se, 0)"}}},
 {"data":{"values":[{}]},"mark":{"type":"text","fontSize":8.5,"color":"#50535e","baseline":"middle","align":"left"},"encoding":{
  "x":{"datum":0,"type":"quantitative","scale":{"domain":[0,261],"nice":false,"zero":false},"axis":null},
  "y":{"datum":27.70,"type":"quantitative","scale":{"domain":[21.762,29.188],"nice":false,"zero":false},"axis":null},
  "text":{"value":"sa, 0)"}}},
 {"data":{"values":[{}]},"mark":{"type":"text","fontSize":8.5,"color":"#50535e","baseline":"middle","align":"left"},"encoding":{
  "x":{"datum":0,"type":"quantitative","scale":{"domain":[0,261],"nice":false,"zero":false},"axis":null},
  "y":{"datum":23.287,"type":"quantitative","scale":{"domain":[21.762,29.188],"nice":false,"zero":false},"axis":null},
  "text":{"value":"e)"}}},
 {"data":{"values":[{}]},"mark":{"type":"text","fontSize":9,"color":"#50535e","baseline":"middle","align":"left"},"encoding":{
  "x":{"datum":0.2,"type":"quantitative","scale":{"domain":[0,261],"nice":false,"zero":false},"axis":null},
  "y":{"datum":22.006,"type":"quantitative","scale":{"domain":[21.762,29.188],"nice":false,"zero":false},"axis":null},
  "text":{"value":"View"}}},
 {"data":{"values":[{"y":26.80,"a":217.8,"b":220.0},{"y":25.85,"a":216.3,"b":216.3}]},"mark":{"type":"area","orient":"horizontal","fill":"#f7a09b","stroke":"#e5534b","strokeWidth":1},"encoding":{
  "y":{"field":"y","type":"quantitative","scale":{"domain":[21.762,29.188],"nice":false,"zero":false},"axis":null},
  "x":{"field":"a","type":"quantitative","scale":{"domain":[0,261],"nice":false,"zero":false},"axis":null},
  "x2":{"field":"b"}}},
 {"data":{"values":[{}]},"mark":{"type":"rect","fill":"#f7a09b","stroke":"#e5534b","strokeWidth":1.5,"cornerRadius":4},"encoding":{
  "x":{"datum":217.5,"type":"quantitative","scale":{"domain":[0,261],"nice":false,"zero":false},"axis":null},
  "x2":{"datum":246.0},
  "y":{"datum":27.188,"type":"quantitative","scale":{"domain":[21.762,29.188],"nice":false,"zero":false},"axis":null},
  "y2":{"datum":26.772}}},
 {"data":{"values":[{}]},"mark":{"type":"text","fontSize":9.5,"fontWeight":"bold","color":"white","baseline":"middle","align":"center"},"encoding":{
  "x":{"datum":232.0,"type":"quantitative","scale":{"domain":[0,261],"nice":false,"zero":false},"axis":null},
  "y":{"datum":26.98,"type":"quantitative","scale":{"domain":[21.762,29.188],"nice":false,"zero":false},"axis":null},
  "text":{"value":"9- Periods EMA"}}},
 {"data":{"values":[{"y":25.37,"a":213.0,"b":213.0},{"y":24.45,"a":214.5,"b":216.4}]},"mark":{"type":"area","orient":"horizontal","fill":"#8fc5f4","stroke":"#e0615f","strokeWidth":1},"encoding":{
  "y":{"field":"y","type":"quantitative","scale":{"domain":[21.762,29.188],"nice":false,"zero":false},"axis":null},
  "x":{"field":"a","type":"quantitative","scale":{"domain":[0,261],"nice":false,"zero":false},"axis":null},
  "x2":{"field":"b"}}},
 {"data":{"values":[{}]},"mark":{"type":"rect","fill":"#8fc5f4","stroke":"#e0615f","strokeWidth":1.5,"cornerRadius":4},"encoding":{
  "x":{"datum":214.4,"type":"quantitative","scale":{"domain":[0,261],"nice":false,"zero":false},"axis":null},
  "x2":{"datum":243.6},
  "y":{"datum":24.475,"type":"quantitative","scale":{"domain":[21.762,29.188],"nice":false,"zero":false},"axis":null},
  "y2":{"datum":24.06}}},
 {"data":{"values":[{}]},"mark":{"type":"text","fontSize":9.5,"fontWeight":"bold","color":"white","baseline":"middle","align":"center"},"encoding":{
  "x":{"datum":229.0,"type":"quantitative","scale":{"domain":[0,261],"nice":false,"zero":false},"axis":null},
  "y":{"datum":24.277,"type":"quantitative","scale":{"domain":[21.762,29.188],"nice":false,"zero":false},"axis":null},
  "text":{"value":"21 Periods EMA"}}}
]},
{"layer":[
 {"data":{"values":[{}]},"mark":{"type":"rect","fill":"#9c4dff","opacity":0.11},"encoding":{
  "x":{"datum":0,"type":"quantitative","scale":{"domain":[0,261],"nice":false,"zero":false},"axis":null},
  "x2":{"datum":261},
  "y":{"datum":70,"type":"quantitative","scale":{"domain":[-50,505.6],"nice":false,"zero":false},"axis":null},
  "y2":{"datum":30}}},
 {"data":{"values":[{}]},"mark":{"type":"rule","color":"#a9a4b0","strokeWidth":1,"strokeDash":[4,3]},"encoding":{"y":{"datum":70,"type":"quantitative","scale":{"domain":[-50,505.6],"nice":false,"zero":false},"axis":null}}},
 {"data":{"values":[{}]},"mark":{"type":"rule","color":"#a9a4b0","strokeWidth":1,"strokeDash":[4,3]},"encoding":{"y":{"datum":30,"type":"quantitative","scale":{"domain":[-50,505.6],"nice":false,"zero":false},"axis":null}}},
 {"data":{"values":[{}]},"mark":{"type":"rule","color":"#dac9ef","strokeWidth":1},"encoding":{"y":{"datum":40.4,"type":"quantitative","scale":{"domain":[-50,505.6],"nice":false,"zero":false},"axis":null}}},
 {"data":{"name":"rsi"},"mark":{"type":"line","color":"#b35fd0","strokeWidth":1.3},"encoding":{
  "x":{"field":"i","type":"quantitative","scale":{"domain":[0,261],"nice":false,"zero":false},"axis":null},
  "y":{"field":"r","type":"quantitative","scale":{"domain":[-50,505.6],"nice":false,"zero":false},"axis":null}}}
]}
],
"resolve":{"scale":{"y":"independent"}}
}
